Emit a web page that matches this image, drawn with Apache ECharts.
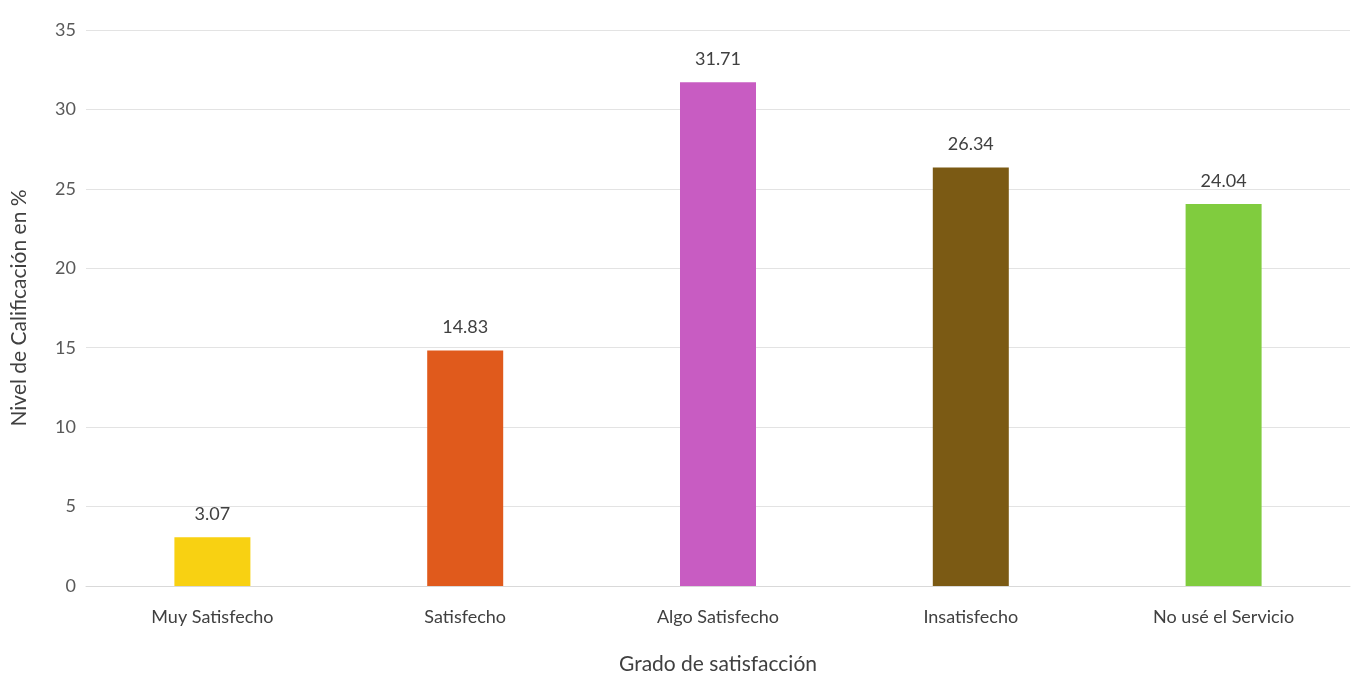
<!DOCTYPE html>
<html>
<head>
<meta charset="utf-8">
<script src="https://cdn.jsdelivr.net/npm/echarts@6/dist/echarts.min.js"></script>
<style>
html,body{margin:0;padding:0;background:#fff;}
#chart{width:1364px;height:686px;}
</style>
</head>
<body>
<div id="chart"></div>
<script>
const categories = ["Muy Satisfecho", "Satisfecho", "Algo Satisfecho", "Insatisfecho", "No usé el Servicio"];
const values = [3.07, 14.83, 31.71, 26.34, 24.04];
const barColors = ["#F8D112", "#E05A1C", "#C85CC2", "#7B5A14", "#80CC3E"];
const yTicks = [0, 5, 10, 15, 20, 25, 30, 35];

const chart = echarts.init(document.getElementById('chart'));
const font = 'Lato, "Open Sans", sans-serif';
chart.setOption({
  backgroundColor: '#ffffff',
  grid: { left: 86, right: 14, top: 30, bottom: 100 },
  xAxis: {
    type: 'category',
    data: categories,
    name: 'Grado de satisfacción',
    nameLocation: 'middle',
    nameGap: 68,
    nameTextStyle: { fontFamily: font, fontSize: 21, color: '#404040' },
    axisLine: { show: true, lineStyle: { color: '#d9d9d9' } },
    axisTick: { show: false },
    axisLabel: { fontFamily: font, fontSize: 18, color: '#404040', margin: 22 }
  },
  yAxis: {
    type: 'value',
    min: 0, max: 35, interval: 5,
    name: 'Nivel de Calificación en %',
    nameLocation: 'middle',
    nameGap: 56,
    nameTextStyle: { fontFamily: font, fontSize: 21, color: '#404040' },
    axisLine: { show: false },
    axisTick: { show: false },
    axisLabel: { fontFamily: font, fontSize: 18, color: '#595959', margin: 10,
      formatter: v => yTicks.includes(v) ? String(v) : '' },
    splitLine: { lineStyle: { color: '#e3e3e3' } }
  },
  series: [{
    type: 'bar',
    data: values.map((v, i) => ({ value: v, itemStyle: { color: barColors[i] } })),
    barWidth: 76,
    label: {
      show: true, position: 'top', distance: 14,
      fontFamily: font, fontSize: 18, color: '#404040',
      formatter: p => p.value.toFixed(2)
    }
  }]
});
</script>
</body>
</html>
